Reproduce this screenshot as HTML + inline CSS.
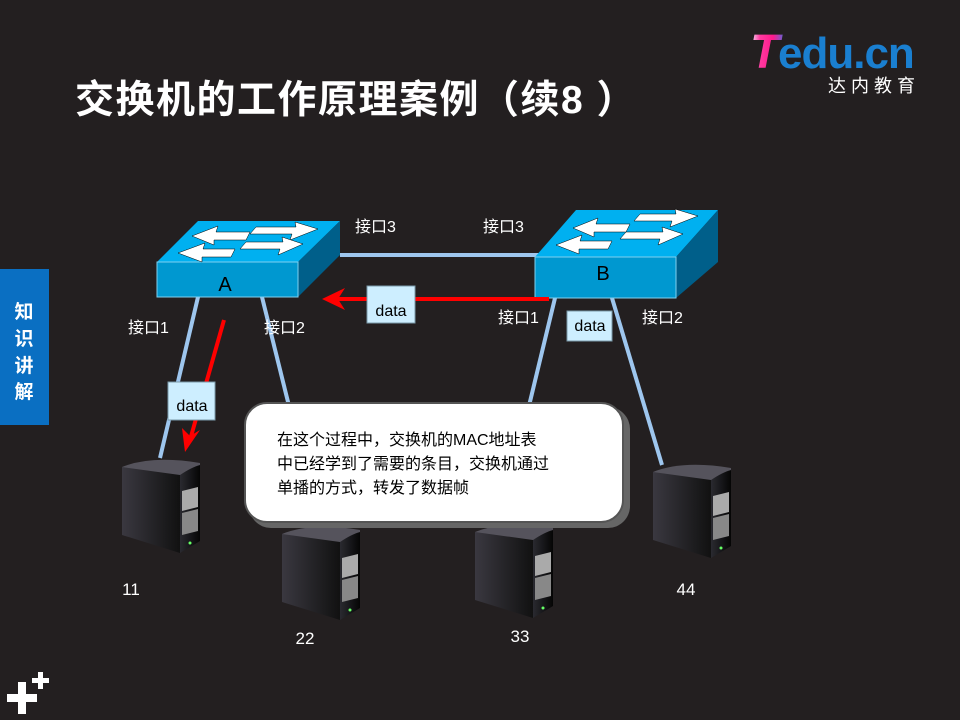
<!DOCTYPE html>
<html><head><meta charset="utf-8"><style>
body{margin:0;background:#231f20;}
svg{display:block;font-family:"Liberation Sans","Noto Sans CJK SC",sans-serif;}
</style></head><body>
<svg width="960" height="720" viewBox="0 0 960 720" xmlns="http://www.w3.org/2000/svg">
<defs>
<linearGradient id="sv" x1="0" y1="0" x2="1" y2="0"><stop offset="0" stop-color="#3a3840"/><stop offset="1" stop-color="#111"/></linearGradient>
<linearGradient id="sf" x1="0" y1="0" x2="1" y2="0"><stop offset="0" stop-color="#2a2a30"/><stop offset="1" stop-color="#050505"/></linearGradient>
<linearGradient id="lg" x1="0" y1="0" x2="1" y2="0"><stop offset="0" stop-color="#f0f0ff"/><stop offset="0.3" stop-color="#ff3aa0"/><stop offset="0.7" stop-color="#ff1a8c"/><stop offset="1" stop-color="#6a5fd0"/></linearGradient>
<g id="server">
<path d="M0,12 Q30,0 78,8 L78,16 L58,22 L0,14 Z" fill="#55535c"/>
<polygon points="0,12 58,20 58,98 0,80" fill="url(#sv)"/>
<path d="M58,20 Q70,12 78,10 L78,86 L58,98 Z" fill="url(#sf)"/>
<polygon points="60,36 76,32 76,52 60,56" fill="#aaa"/>
<polygon points="60,58 76,54 76,76 60,80" fill="#888"/>
<circle cx="68" cy="88" r="1.5" fill="#6f6"/>
</g>
</defs>
<rect width="960" height="720" fill="#231f20"/>
<!-- logo -->
<text x="750" y="68" font-size="48" font-weight="bold" font-style="italic" fill="url(#lg)">T</text>
<text x="778" y="68" font-size="44" font-weight="bold" fill="#1a7fd0" letter-spacing="-1">edu.cn</text>
<text x="828" y="92" font-size="18" fill="#fff" letter-spacing="5">达内教育</text>
<!-- title -->
<text x="75" y="113" font-size="39" font-weight="bold" fill="#fff" letter-spacing="1.5">交换机的工作原理案例（续8 ）</text>
<!-- side tab -->
<rect x="0" y="269" width="49" height="156" fill="#0a6fc2"/>
<g font-size="19" font-weight="bold" fill="#fff" text-anchor="middle"><text x="24" y="318">知</text><text x="24" y="345">识</text><text x="24" y="372">讲</text><text x="24" y="398">解</text></g>
<g fill="#fff"><rect x="7" y="694" width="30" height="8"/><rect x="18" y="682" width="8" height="32"/><rect x="32" y="678" width="17" height="5"/><rect x="38" y="672" width="5" height="17"/></g>
<!-- links -->
<g stroke="#9ec6ee" stroke-width="4" fill="none">
<line x1="340" y1="255" x2="540" y2="255"/>
<line x1="198" y1="297" x2="160" y2="458"/>
<line x1="262" y1="297" x2="290" y2="410"/>
<line x1="555" y1="298" x2="528" y2="410"/>
<line x1="612" y1="298" x2="662" y2="465"/>
</g>
<!-- switch A -->
<polygon points="157,262 198,221 340,221 298,262" fill="#00b0f0"/>
<polygon points="298,262 340,221 340,255 298,297" fill="#005f8a"/>
<rect x="157" y="262" width="141" height="35" fill="#0098d0" stroke="#7fd0f0"/>
<g fill="#fff" stroke="#000" stroke-width="0.5">
<polygon points="178,253 205,243 203,249 235,249 231,257 202,257 202,262"/>
<polygon points="192,236 218,226 216,232 250,232 246,240 214,240 214,245"/>
<polygon points="318,229 295,222 296,227 256,227 250,234 292,234 290,240"/>
<polygon points="303,244 282,237 283,242 246,242 240,249 280,249 278,255"/>
</g>
<text x="225" y="291" font-size="20" text-anchor="middle" fill="#000">A</text>
<!-- switch B -->
<polygon points="535,257 576,210 718,210 676,257" fill="#00b0f0"/>
<polygon points="676,257 718,210 718,262 676,298" fill="#005f8a"/>
<rect x="535" y="257" width="141" height="41" fill="#0098d0" stroke="#7fd0f0"/>
<g fill="#fff" stroke="#000" stroke-width="0.5">
<polygon points="556,245 582,235 580,241 612,241 608,249 579,249 579,254"/>
<polygon points="573,228 598,218 596,224 630,224 626,232 594,232 594,237"/>
<polygon points="698,216 675,209 676,214 640,214 634,221 672,221 670,227"/>
<polygon points="683,234 662,227 663,232 626,232 620,239 660,239 658,245"/>
</g>
<text x="603" y="280" font-size="20" text-anchor="middle" fill="#000">B</text>
<!-- port labels -->
<g font-size="16" fill="#fff">
<text x="355" y="232">接口3</text><text x="483" y="232">接口3</text>
<text x="128" y="333">接口1</text><text x="264" y="333">接口2</text>
<text x="498" y="323">接口1</text><text x="642" y="323">接口2</text>
</g>
<!-- red arrows -->
<line x1="549" y1="299" x2="330" y2="299" stroke="#f00" stroke-width="4"/>
<polygon points="322,299 345,288 338,299 345,310" fill="#f00"/>
<line x1="224" y1="320" x2="190" y2="440" stroke="#f00" stroke-width="4"/>
<polygon points="185,452 182,428 190,436 200,430" fill="#f00"/>
<!-- data boxes -->
<g font-size="16" fill="#000">
<rect x="367" y="286" width="48" height="37" fill="#cdeeff" stroke="#7a9aaa"/><text x="391" y="316" text-anchor="middle">data</text>
<rect x="567" y="311" width="45" height="30" fill="#cdeeff" stroke="#7a9aaa"/><text x="590" y="331" text-anchor="middle">data</text>
<rect x="168" y="382" width="47" height="38" fill="#cdeeff" stroke="#7a9aaa"/><text x="192" y="411" text-anchor="middle">data</text>
</g>
<!-- servers -->
<use href="#server" x="122" y="455"/>
<use href="#server" x="282" y="522"/>
<use href="#server" x="475" y="520"/>
<use href="#server" x="653" y="460"/>
<!-- callout -->
<rect x="249" y="407" width="381" height="121" rx="22" fill="#666"/>
<rect x="245" y="403" width="378" height="119" rx="22" fill="#fff" stroke="#555" stroke-width="2"/>
<g font-size="16" fill="#000">
<text x="277" y="445">在这个过程中，交换机的MAC地址表</text>
<text x="277" y="469">中已经学到了需要的条目，交换机通过</text>
<text x="277" y="493">单播的方式，转发了数据帧</text>
</g>
<g font-size="17" fill="#fff" text-anchor="middle">
<text x="131" y="595">11</text><text x="305" y="644">22</text><text x="520" y="642">33</text><text x="686" y="595">44</text>
</g>
</svg>
</body></html>
